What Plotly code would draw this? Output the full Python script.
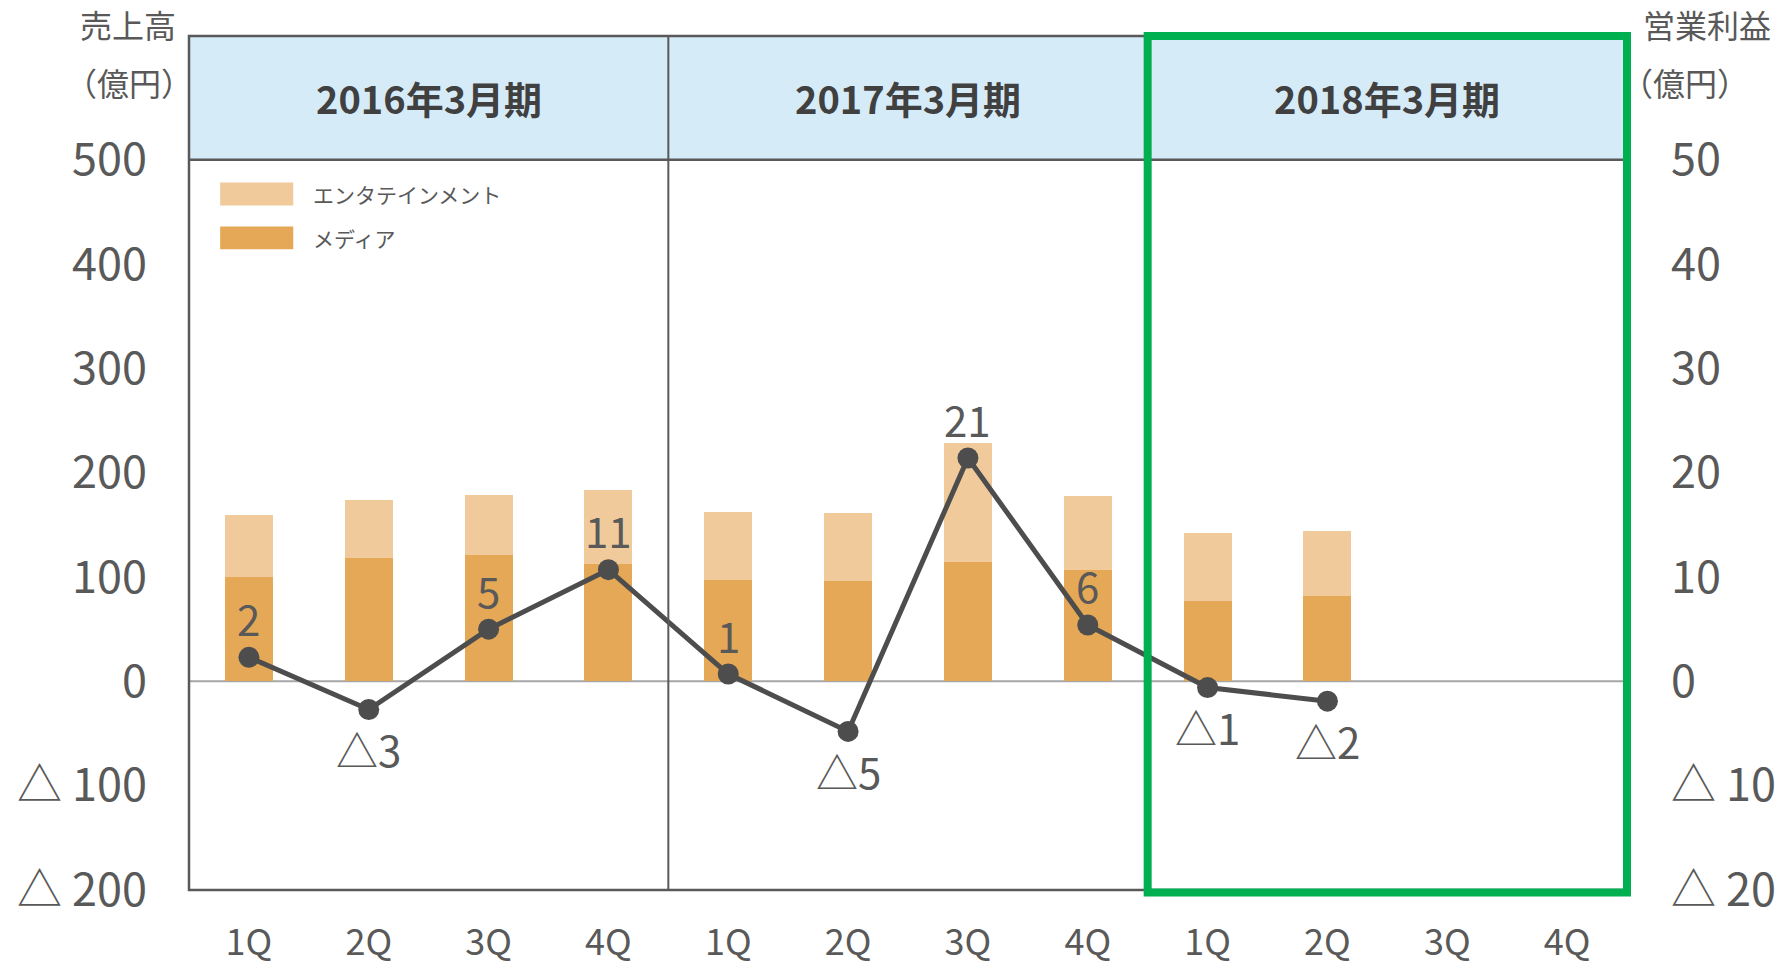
import plotly.graph_objects as go

quarters = ["1Q", "2Q", "3Q", "4Q", "1Q", "2Q", "3Q", "4Q", "1Q", "2Q", "3Q", "4Q"]
periods = ["2016年3月期", "2017年3月期", "2018年3月期"]
media = [100, 118, 121, 112, 97, 96, 114, 107, 77, 82]
entertainment = [59, 56, 58, 71, 65, 65, 114, 71, 65, 62]
op_profit = [2.3, -2.7, 5.0, 10.7, 0.7, -4.8, 21.4, 5.4, -0.6, -1.9]
op_labels = ["2", "△3", "5", "11", "1", "△5", "21", "6", "△1", "△2"]
left_ticks = [500, 400, 300, 200, 100, 0, -100, -200]
right_ticks = [50, 40, 30, 20, 10, 0, -10, -20]
series_names = ["エンタテインメント", "メディア"]

FONT = "Noto Sans CJK JP"
TXT = "#595959"
C_MEDIA = "#e5a857"
C_ENT = "#f0ca9b"

def tri(v):
    return ("△ " + str(abs(v))) if v < 0 else str(v)

Y0, Y1 = -200, 618.5
X0, X1 = -0.5, len(quarters) - 0.5
idx = list(range(len(media)))

fig = go.Figure()
fig.add_trace(go.Bar(x=idx, y=media, name=series_names[1], marker_color=C_MEDIA,
                     width=0.4, marker_line_width=0, showlegend=False))
fig.add_trace(go.Bar(x=idx, y=entertainment, name=series_names[0], marker_color=C_ENT,
                     width=0.4, marker_line_width=0, showlegend=False))
fig.add_trace(go.Scatter(x=idx, y=op_profit, yaxis="y2", mode="lines+markers",
                         line=dict(color="#4d4d4d", width=5),
                         marker=dict(color="#4d4d4d", size=21), showlegend=False))

ann = []
for i, (v, t) in enumerate(zip(op_profit, op_labels)):
    ann.append(dict(x=i, y=v, xref="x", yref="y2", text=t, showarrow=False,
                    yshift=40 if v >= 0 else -39,
                    font=dict(family=FONT, size=42, color=TXT)))
for k, p in enumerate(periods):
    ann.append(dict(x=4 * k + 1.5, y=(500 + Y1) / 2, xref="x", yref="y", text="<b>" + p + "</b>",
                    showarrow=False, font=dict(family=FONT, size=38, color="#404040")))

def py(v):
    return (v - Y0) / (Y1 - Y0)

def px(v):
    return (v - X0) / (X1 - X0)

# axis titles
ann += [
    dict(x=0, y=1.0, xref="paper", yref="paper", text="売上高", showarrow=False,
         xanchor="right", yanchor="middle", yshift=12, xshift=-11, font=dict(family=FONT, size=32, color=TXT)),
    dict(x=0, y=1.0, xref="paper", yref="paper", text="（億円）", showarrow=False,
         xanchor="right", yanchor="middle", yshift=-46, xshift=6, font=dict(family=FONT, size=32, color=TXT)),
    dict(x=1.0, y=1.0, xref="paper", yref="paper", text="営業利益", showarrow=False,
         xanchor="left", yanchor="middle", yshift=12, xshift=14, font=dict(family=FONT, size=32, color=TXT)),
    dict(x=1.0, y=1.0, xref="paper", yref="paper", text="（億円）", showarrow=False,
         xanchor="left", yanchor="middle", yshift=-46, xshift=-8, font=dict(family=FONT, size=32, color=TXT)),
]

# legend (manual)
leg_colors = [C_ENT, C_MEDIA]
shapes = []
for j, (nm, col) in enumerate(zip(series_names, leg_colors)):
    yv = 467 - j * 42
    shapes.append(dict(type="rect", xref="x", yref="y", x0=-0.24, x1=0.37, y0=yv - 11, y1=yv + 11,
                       fillcolor=col, line_width=0, layer="above"))
    ann.append(dict(x=0.52, y=yv, xref="x", yref="y", text=nm, showarrow=False, xanchor="left",
                    font=dict(family=FONT, size=21, color=TXT)))

# header band, zero line, frame
shapes += [
    dict(type="rect", xref="paper", yref="paper", x0=0, x1=1, y0=py(500), y1=1,
         fillcolor="#d6ebf8", line_width=0, layer="below"),
    dict(type="line", xref="paper", yref="paper", x0=0, x1=1, y0=py(0), y1=py(0),
         line=dict(color="#a6a6a6", width=2), layer="below"),
    dict(type="rect", xref="paper", yref="paper", x0=0, x1=1, y0=0, y1=1,
         line=dict(color="#595959", width=2.5), layer="above"),
    dict(type="line", xref="paper", yref="paper", x0=0, x1=1, y0=py(500), y1=py(500),
         line=dict(color="#595959", width=2.5), layer="above"),
    dict(type="line", xref="paper", yref="paper", x0=px(3.5), x1=px(3.5), y0=0, y1=1,
         line=dict(color="#595959", width=2), layer="above"),
    dict(type="line", xref="paper", yref="paper", x0=px(7.5), x1=px(7.5), y0=0, y1=1,
         line=dict(color="#595959", width=2), layer="above"),
    dict(type="rect", xref="paper", yref="paper", x0=px(7.5), x1=1.0, y0=-0.003, y1=1.0,
         line=dict(color="#00b050", width=8), layer="above"),
]

fig.update_layout(
    width=1784, height=972,
    margin=dict(l=189, r=157, t=36, b=82, autoexpand=False),
    paper_bgcolor="white", plot_bgcolor="white",
    barmode="stack", bargap=0.6,
    xaxis=dict(range=[X0, X1], tickvals=list(range(len(quarters))), ticktext=quarters,
               showgrid=False, zeroline=False, showline=False, ticks="outside", ticklen=0,
               automargin=False, ticklabelstandoff=21,
               tickfont=dict(family=FONT, size=36, color=TXT)),
    yaxis=dict(range=[Y0, Y1], tickvals=left_ticks, ticktext=[tri(v) for v in left_ticks],
               showgrid=False, zeroline=False, showline=False, ticks="outside", ticklen=0,
               automargin=False, ticklabelstandoff=32,
               tickfont=dict(family=FONT, size=45, color=TXT)),
    yaxis2=dict(range=[Y0 / 10, Y1 / 10], overlaying="y", side="right", tickvals=right_ticks,
                ticktext=[tri(v) for v in right_ticks], showgrid=False, zeroline=False,
                showline=False, ticks="outside", ticklen=0, ticklabelstandoff=34, automargin=False,
                tickfont=dict(family=FONT, size=45, color=TXT)),
    shapes=shapes, annotations=ann, showlegend=False,
)

fig.write_html("out.html", config={"displayModeBar": False},
               post_script="document.body.style.margin='0px';document.body.style.overflow='hidden';")
